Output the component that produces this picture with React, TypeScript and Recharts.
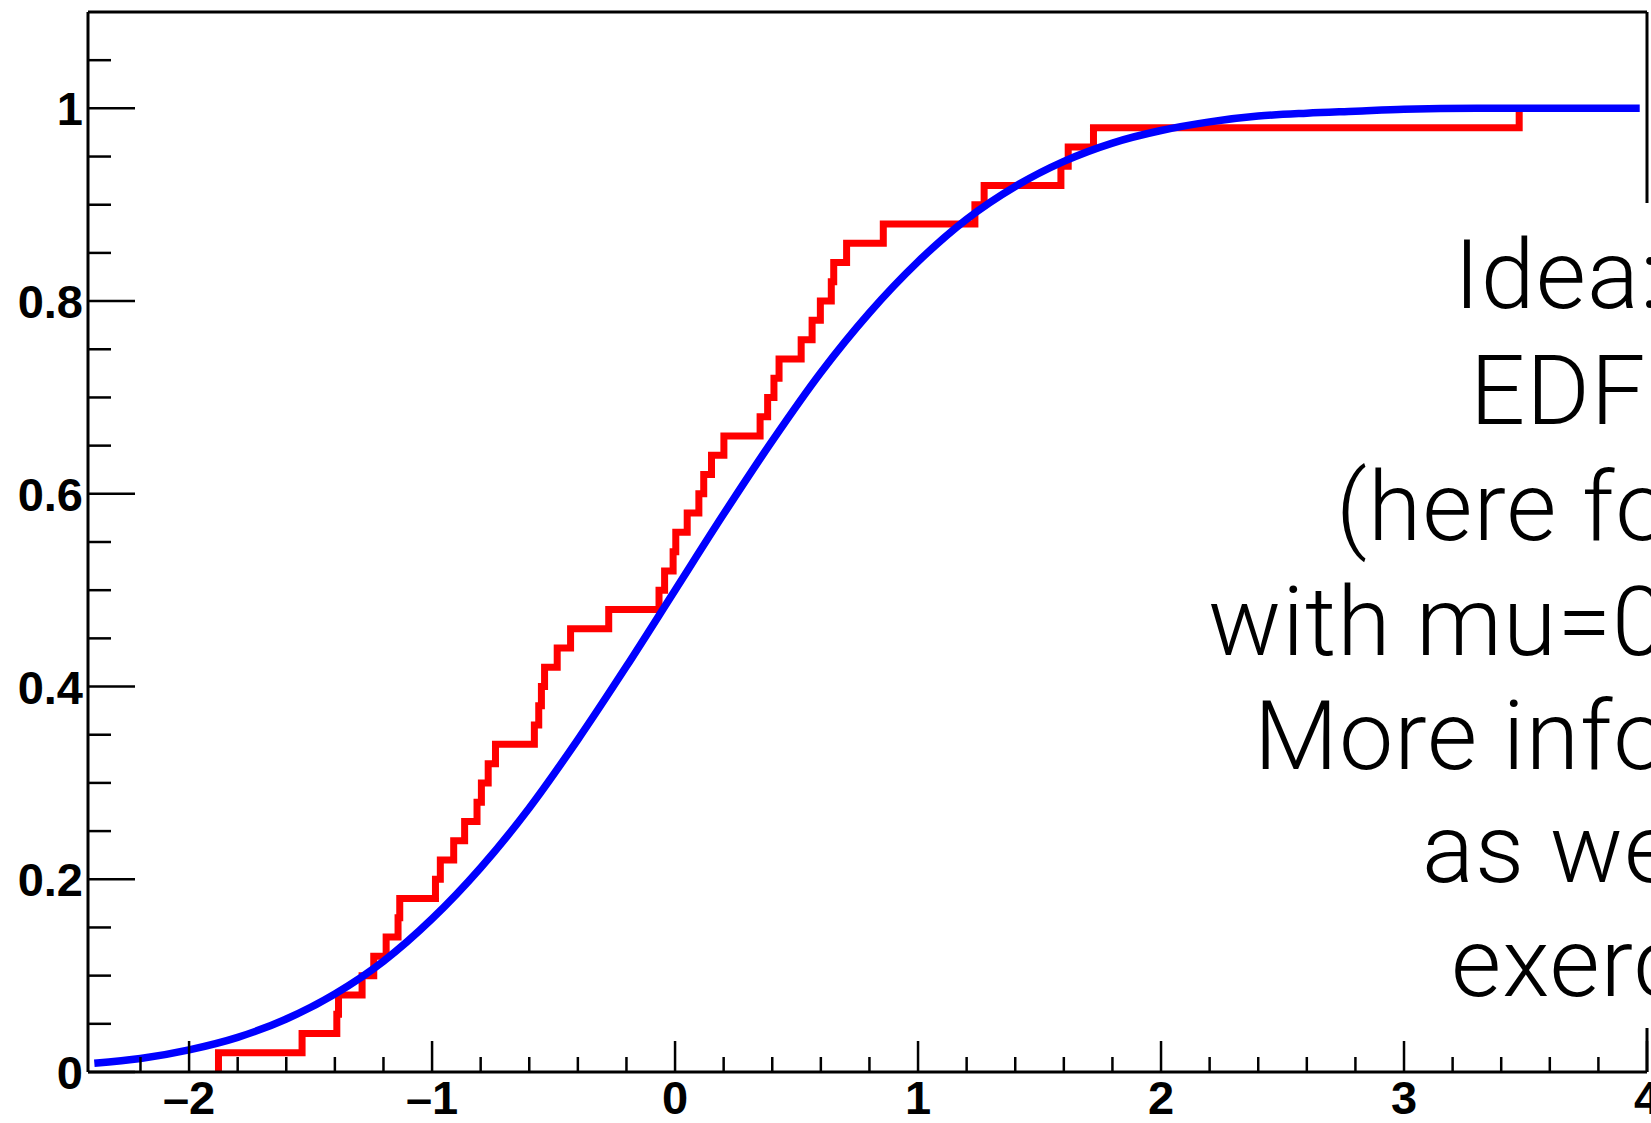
import { LineChart, Line, XAxis, YAxis, ReferenceLine } from 'recharts';

// empirical distribution: x position of every jump and the level after it
const edfX = [
  -1.879, -1.535, -1.392, -1.385, -1.288, -1.24, -1.189, -1.14, -1.133, -0.986,
  -0.966, -0.911, -0.866, -0.815, -0.797, -0.769, -0.739, -0.579, -0.561, -0.55,
  -0.537, -0.485, -0.43, -0.273, -0.066, -0.043, -0.008, 0.003, 0.05, 0.098,
  0.118, 0.15, 0.201, 0.35, 0.381, 0.407, 0.428, 0.519, 0.564, 0.598,
  0.643, 0.653, 0.706, 0.857, 1.234, 1.272, 1.588, 1.618, 1.722, 3.474,
];
const edfLevel = [
  0.02, 0.04, 0.06, 0.08, 0.1, 0.12, 0.14, 0.16, 0.18, 0.2,
  0.22, 0.24, 0.26, 0.28, 0.3, 0.32, 0.34, 0.36, 0.38, 0.4,
  0.42, 0.44, 0.46, 0.48, 0.5, 0.52, 0.54, 0.56, 0.58, 0.6,
  0.62, 0.64, 0.66, 0.68, 0.7, 0.72, 0.74, 0.76, 0.78, 0.8,
  0.82, 0.84, 0.86, 0.88, 0.9, 0.92, 0.94, 0.96, 0.98, 1.0,
];

// reference cdf
const cdfX = [
  -2.39, -2.2, -2.0, -1.8, -1.6, -1.4, -1.2, -1.0, -0.8, -0.6, -0.4, -0.2, 0,
  0.2, 0.4, 0.6, 0.8, 1.0, 1.2, 1.4, 1.6, 1.8, 2.0, 2.2, 2.4, 2.6, 2.8, 3.0, 3.3, 3.6, 3.97,
];
const cdfY = [
  0.009, 0.014, 0.023, 0.036, 0.055, 0.081, 0.115, 0.159, 0.212, 0.274, 0.345, 0.421, 0.5,
  0.579, 0.655, 0.726, 0.788, 0.841, 0.885, 0.919, 0.945, 0.964, 0.977, 0.986, 0.992, 0.995, 0.997, 0.999, 1.0, 1.0, 1.0,
];

const xMajorTicks = [-2, -1, 0, 1, 2, 3, 4];
const xMinorTicks = [
  -2.2, -1.8, -1.6, -1.4, -1.2, -0.8, -0.6, -0.4, -0.2, 0.2, 0.4, 0.6, 0.8,
  1.2, 1.4, 1.6, 1.8, 2.2, 2.4, 2.6, 2.8, 3.2, 3.4, 3.6, 3.8,
];
const yMajorTicks = [0, 0.2, 0.4, 0.6, 0.8, 1];
const yMinorTicks = [0.05, 0.1, 0.15, 0.25, 0.3, 0.35, 0.45, 0.5, 0.55, 0.65, 0.7, 0.75, 0.85, 0.9, 0.95, 1.05];

const noteLines = [
  { text: 'Idea:', x: 1454, y: 308 },
  { text: 'EDF', x: 1470, y: 424 },
  { text: '(here fo', x: 1336, y: 540 },
  { text: 'with mu=0', x: 1208, y: 655 },
  { text: 'More info', x: 1254, y: 769 },
  { text: 'as we', x: 1422, y: 882 },
  { text: 'exerc', x: 1451, y: 996 },
];

const edfData = [{ x: edfX[0], y: 0 }, ...edfX.map((x, i) => ({ x, y: edfLevel[i] }))];
const cdfData = cdfX.map((x, i) => ({ x, y: cdfY[i] }));

const labelFont = { fontFamily: '"Liberation Sans", Arial, sans-serif', fontWeight: 700, fontSize: 47 };

const XTick = ({ x, y, payload }: any) => {
  const v = payload.value;
  const major = xMajorTicks.includes(v);
  const label = v < 0 ? `\u2013${Math.abs(v)}` : `${v}`;
  return (
    <g>
      <line x1={x} y1={y} x2={x} y2={y - (major ? 31 : 15)} stroke="#000" strokeWidth={2.5} />
      {major && (
        <text x={x} y={y + 42} textAnchor="middle" fill="#000" style={labelFont}>
          {label}
        </text>
      )}
    </g>
  );
};

const YTick = ({ x, y, payload }: any) => {
  const v = payload.value;
  const major = yMajorTicks.includes(v);
  return (
    <g>
      <line x1={x} y1={y} x2={x + (major ? 47 : 23)} y2={y} stroke="#000" strokeWidth={2.5} />
      {major && (
        <text x={x - 5} y={y + 17} textAnchor="end" fill="#000" style={labelFont}>
          {`${v}`}
        </text>
      )}
    </g>
  );
};

const App = () => {
  return (
    <div style={{ position: 'absolute', left: 0, top: 0, width: 1651, height: 1123, overflow: 'hidden', background: '#fff' }}>
      <LineChart width={1760} height={1123} margin={{ top: 12, right: 113, bottom: 0, left: 0 }}>
        <XAxis
          type="number"
          dataKey="x"
          domain={[-2.416, 4]}
          allowDataOverflow
          ticks={[...xMajorTicks, ...xMinorTicks].sort((a, b) => a - b)}
          interval={0}
          tick={(p: any) => <XTick {...p} />}
          tickSize={0}
          tickMargin={0}
          tickLine={false}
          axisLine={{ stroke: '#000', strokeWidth: 3 }}
          height={51}
        />
        <YAxis
          type="number"
          domain={[0, 1.1]}
          allowDataOverflow
          ticks={[...yMajorTicks, ...yMinorTicks].sort((a, b) => a - b)}
          interval={0}
          tick={(p: any) => <YTick {...p} />}
          tickSize={0}
          tickMargin={0}
          tickLine={false}
          axisLine={{ stroke: '#000', strokeWidth: 3 }}
          width={88}
        />
        <ReferenceLine y={1.1} stroke="#000" strokeWidth={3} />
        <ReferenceLine x={4} stroke="#000" strokeWidth={3} />
        <Line
          data={edfData}
          dataKey="y"
          type="stepAfter"
          stroke="#ff0000"
          strokeWidth={7}
          strokeLinejoin="miter"
          dot={false}
          activeDot={false}
          isAnimationActive={false}
        />
        <Line
          data={cdfData}
          dataKey="y"
          type="monotone"
          stroke="#0000ff"
          strokeWidth={7.5}
          dot={false}
          activeDot={false}
          isAnimationActive={false}
        />
      </LineChart>
      <svg width={1651} height={1123} style={{ position: 'absolute', left: 0, top: 0, pointerEvents: 'none' }}>
        <rect x={1150} y={203} width={520} height={825} fill="#fff" />
        {noteLines.map((l) => (
          <text
            key={l.text}
            x={l.x}
            y={l.y}
            fill="#000"
            style={{ fontFamily: 'Roboto, "Liberation Sans", sans-serif', fontWeight: 300, fontSize: 97, letterSpacing: 1 }}
          >
            {l.text}
          </text>
        ))}
      </svg>
    </div>
  );
};

export default App;
